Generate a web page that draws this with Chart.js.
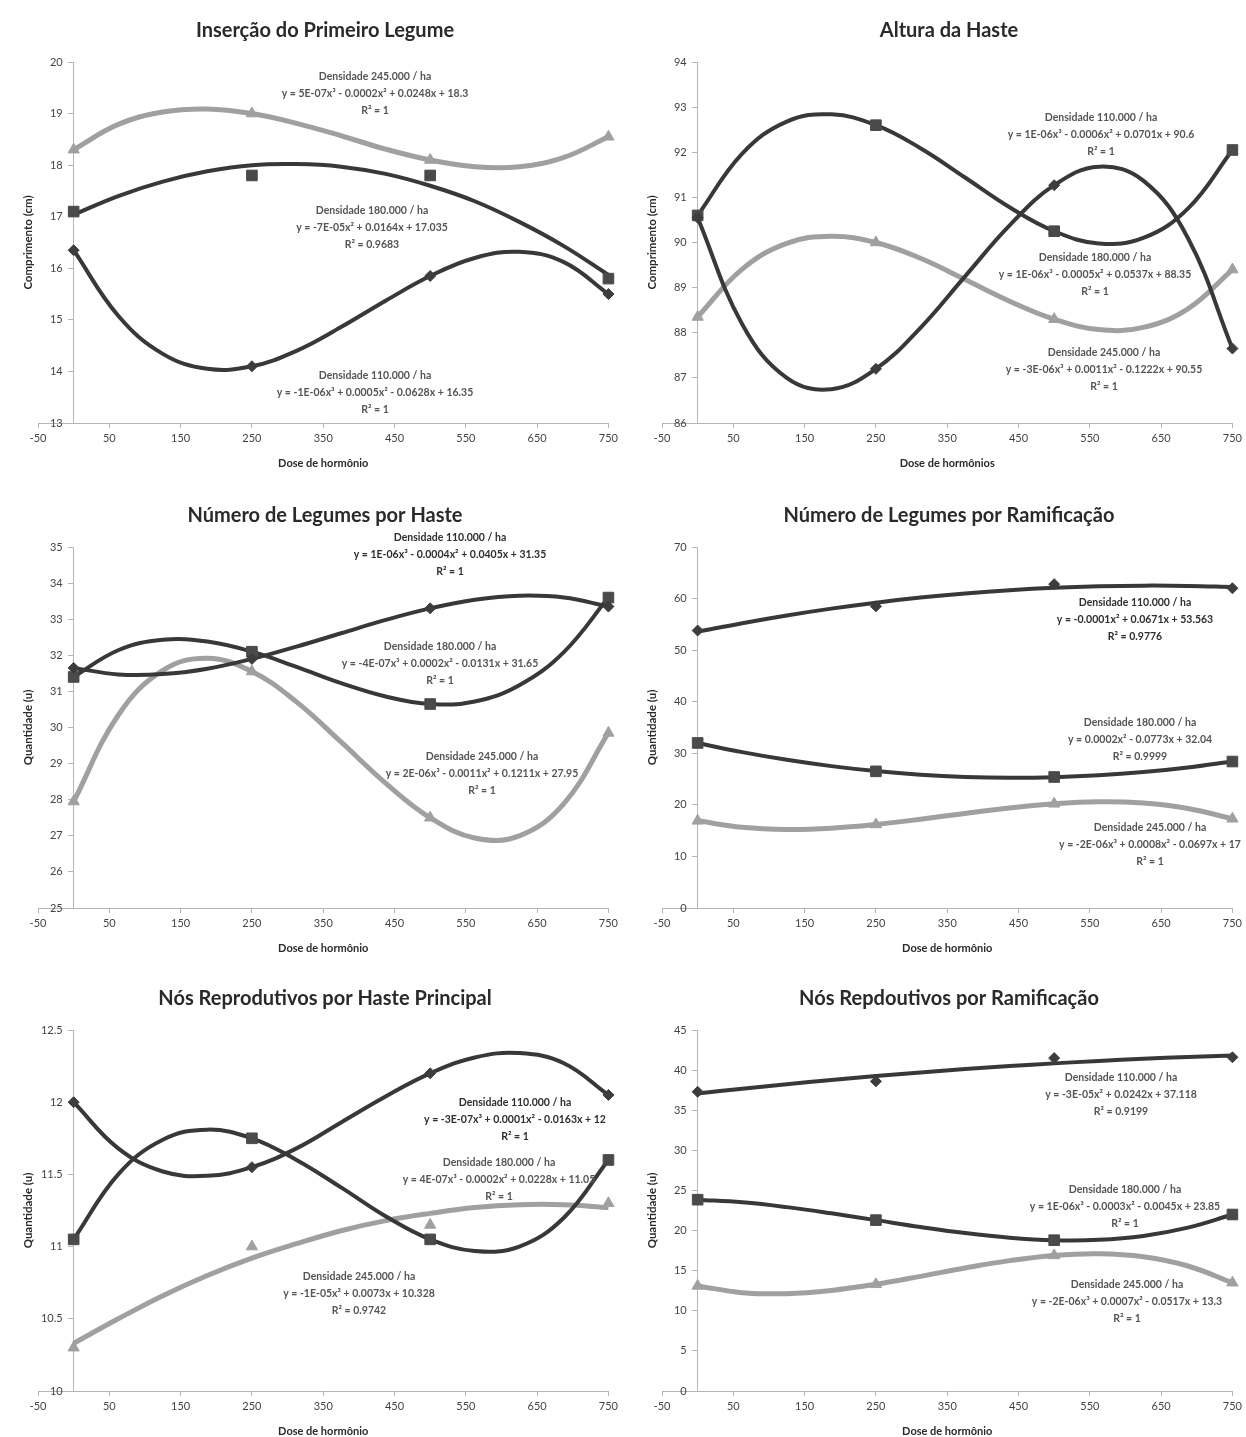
<!DOCTYPE html>
<html>
<head>
<meta charset="utf-8">
<script src="https://cdn.jsdelivr.net/npm/chart.js@4.4.1/dist/chart.umd.min.js"></script>
<style>
  html, body { margin: 0; padding: 0; background: #fff; }
  body { width: 1246px; height: 1437px; position: relative; overflow: hidden; }
  .box { position: absolute; }
</style>
</head>
<body>
<div class="box" style="left:0;top:0"><canvas id="c1" width="622" height="475"></canvas></div>
<div class="box" style="left:624px;top:0"><canvas id="c2" width="622" height="475"></canvas></div>
<div class="box" style="left:0;top:485px"><canvas id="c3" width="622" height="475"></canvas></div>
<div class="box" style="left:624px;top:485px"><canvas id="c4" width="622" height="475"></canvas></div>
<div class="box" style="left:0;top:968px"><canvas id="c5" width="622" height="469"></canvas></div>
<div class="box" style="left:624px;top:968px"><canvas id="c6" width="622" height="469"></canvas></div>
<script>
// doses de hormônio (eixo x)
const doses = [0, 250, 500, 750];
const trendDoses = [0, 62.5, 125, 187.5, 250, 312.5, 375, 437.5, 500, 562.5, 625, 687.5, 750];

// Inserção do Primeiro Legume (cm)
const insercao110 = [16.35, 14.1, 15.85, 15.5];
const insercao180 = [17.1, 17.8, 17.8, 15.8];
const insercao245 = [18.3, 19.0, 18.1, 18.55];
const insercaoTrend110 = [16.35, 15.08, 14.34, 14.05, 14.1, 14.4, 14.86, 15.37, 15.85, 16.2, 16.32, 16.12, 15.5];
const insercaoTrend180 = [17.04, 17.4, 17.68, 17.88, 18.0, 18.02, 17.97, 17.83, 17.6, 17.3, 16.9, 16.43, 15.87];
const insercaoTrend245 = [18.3, 18.79, 19.03, 19.09, 19.0, 18.81, 18.57, 18.31, 18.1, 17.97, 17.97, 18.15, 18.55];

// Altura da Haste (cm)
const altura110 = [90.55, 87.2, 91.27, 87.65];
const altura180 = [90.6, 92.6, 90.25, 92.05];
const altura245 = [88.35, 90.0, 88.3, 89.4];
const alturaTrend110 = [90.55, 88.19, 87.0, 86.75, 87.2, 88.11, 89.25, 90.38, 91.27, 91.68, 91.37, 90.1, 87.65];
const alturaTrend180 = [90.6, 91.97, 92.68, 92.84, 92.6, 92.09, 91.44, 90.78, 90.25, 89.98, 90.1, 90.75, 92.05];
const alturaTrend245 = [88.35, 89.41, 89.98, 90.14, 90.0, 89.65, 89.18, 88.7, 88.3, 88.07, 88.12, 88.53, 89.4];

// Número de Legumes por Haste (u)
const legHaste110 = [31.65, 31.9, 33.3, 33.35];
const legHaste180 = [31.4, 32.1, 30.65, 33.6];
const legHaste245 = [27.95, 31.55, 27.5, 29.85];
const legHasteTrend110 = [31.65, 31.47, 31.48, 31.63, 31.9, 32.24, 32.61, 32.98, 33.3, 33.54, 33.65, 33.6, 33.35];
const legHasteTrend180 = [31.4, 32.14, 32.43, 32.38, 32.1, 31.68, 31.23, 30.86, 30.65, 30.72, 31.17, 32.09, 33.6];
const legHasteTrend245 = [27.95, 30.34, 31.58, 31.92, 31.55, 30.71, 29.6, 28.46, 27.5, 26.94, 27.0, 27.89, 29.85];

// Número de Legumes por Ramificação (u)
const legRamif110 = [53.8, 58.5, 62.8, 62.0];
const legRamif180 = [32.0, 26.5, 25.4, 28.4];
const legRamif245 = [16.9, 16.2, 20.2, 17.3];
const legRamifTrend110 = [53.57, 55.23, 56.73, 58.05, 59.21, 60.19, 60.99, 61.63, 62.1, 62.39, 62.51, 62.46, 62.24];
const legRamifTrend180 = [31.99, 30.23, 28.73, 27.51, 26.55, 25.85, 25.42, 25.25, 25.36, 25.72, 26.35, 27.25, 28.42];
const legRamifTrend245 = [16.9, 15.65, 15.24, 15.48, 16.2, 17.21, 18.34, 19.39, 20.2, 20.58, 20.34, 19.31, 17.3];

// Nós Reprodutivos por Haste Principal (u)
const nosHaste110 = [12.0, 11.55, 12.2, 12.05];
const nosHaste180 = [11.05, 11.75, 11.05, 11.6];
const nosHaste245 = [10.3, 11.0, 11.15, 11.3];
const nosHasteTrend110 = [12.0, 11.68, 11.52, 11.49, 11.55, 11.68, 11.86, 12.04, 12.2, 12.31, 12.34, 12.27, 12.05];
const nosHasteTrend180 = [11.05, 11.5, 11.74, 11.81, 11.75, 11.6, 11.41, 11.21, 11.05, 10.97, 11.0, 11.2, 11.6];
const nosHasteTrend245 = [10.33, 10.5, 10.66, 10.8, 10.92, 11.02, 11.11, 11.18, 11.23, 11.27, 11.29, 11.29, 11.27];

// Nós Repdoutivos por Ramificação (u)
const nosRamif110 = [37.3, 38.6, 41.5, 41.6];
const nosRamif180 = [23.85, 21.3, 18.8, 22.0];
const nosRamif245 = [13.1, 13.3, 16.9, 13.5];
const nosRamifTrend110 = [37.08, 37.68, 38.25, 38.77, 39.26, 39.71, 40.13, 40.5, 40.84, 41.14, 41.41, 41.63, 41.82];
const nosRamifTrend180 = [23.85, 23.52, 22.92, 22.15, 21.3, 20.45, 19.69, 19.11, 18.8, 18.85, 19.33, 20.36, 22.0];
const nosRamifTrend245 = [13.1, 12.26, 12.13, 12.53, 13.3, 14.29, 15.33, 16.25, 16.9, 17.11, 16.73, 15.58, 13.5];

const FONT = 'Lato, "Open Sans", sans-serif';
const DARK = '#383838';
const GRAY = '#a0a0a0';

const notesPlugin = {
  id: 'notes',
  afterDraw(chart, args, opts) {
    const ctx = chart.ctx;
    const a = chart.chartArea;
    ctx.save();
    ctx.textAlign = 'center';
    ctx.textBaseline = 'middle';
    ctx.fillStyle = '#2b2b2b';
    ctx.font = 'bold 11px ' + FONT;
    ctx.fillText(opts.xTitle, (a.left + a.right) / 2, a.bottom + 40);
    ctx.save();
    ctx.translate(28, (a.top + a.bottom) / 2);
    ctx.rotate(-Math.PI / 2);
    ctx.font = 'bold 11.5px ' + FONT;
    ctx.fillText(opts.yTitle, 0, 0);
    ctx.restore();
    ctx.font = 'bold 10.5px ' + FONT;
    opts.boxes.forEach(b => {
      ctx.fillStyle = b.dark ? '#2e2e2e' : '#555';
      b.lines.forEach((t, i) => ctx.fillText(t, b.x, b.y + i * 17));
    });
    ctx.restore();
  }
};

function pts(values) {
  return values.map((v, i) => ({ x: doses[i], y: v }));
}
function curve(values) {
  return values.map((v, i) => ({ x: trendDoses[i], y: v }));
}

function makeChart(id, o) {
  const tickFont = { family: FONT, size: 11 };
  new Chart(document.getElementById(id), {
    type: 'line',
    data: {
      datasets: [
        { data: pts(o.s110), showLine: false, pointStyle: 'rectRot', pointRadius: 5.5,
          pointBackgroundColor: '#3d3d3d', pointBorderColor: '#3d3d3d', clip: false },
        { data: pts(o.s180), showLine: false, pointStyle: 'rect', pointRadius: 7.5,
          pointBackgroundColor: '#4a4a4a', pointBorderColor: '#4a4a4a', clip: false },
        { data: pts(o.s245), showLine: false, pointStyle: 'triangle', pointRadius: 6.5,
          pointBackgroundColor: '#a0a0a0', pointBorderColor: '#a0a0a0', clip: false },
        { data: curve(o.t110), borderColor: DARK, borderWidth: 4, pointRadius: 0, tension: 0.4, clip: false },
        { data: curve(o.t180), borderColor: DARK, borderWidth: 4, pointRadius: 0, tension: 0.4, clip: false },
        { data: curve(o.t245), borderColor: GRAY, borderWidth: 5, pointRadius: 0, tension: 0.4, clip: false }
      ]
    },
    options: {
      responsive: false,
      animation: false,
      layout: { padding: { left: 38, right: 10, bottom: o.bottomPad } },
      scales: {
        x: {
          type: 'linear', min: -50, max: 750,
          ticks: { stepSize: 100, color: '#444', font: tickFont, padding: 4, maxRotation: 0, autoSkip: false,
                   callback: v => String(v) },
          grid: { drawOnChartArea: false, tickLength: 5, color: '#b5b5b5' },
          border: { color: '#b5b5b5' },
          afterFit: s => { s.height = 30; }
        },
        y: {
          type: 'linear', position: { x: 0 }, min: o.yMin, max: o.yMax,
          ticks: { stepSize: o.yStep, color: '#444', font: tickFont, autoSkip: false,
                   callback: v => String(v) + '\u2002\u2002' },
          grid: { drawOnChartArea: false, tickLength: 5, color: '#b5b5b5' },
          border: { color: '#b5b5b5' }
        }
      },
      plugins: {
        legend: { display: false },
        tooltip: { enabled: false },
        title: {
          display: true, text: o.title, color: '#2a2a2a',
          font: { family: FONT, size: 20, weight: 'bold' },
          padding: { top: 19, bottom: 19 }
        },
        notes: { xTitle: o.xTitle, yTitle: o.yTitle, boxes: o.boxes }
      }
    },
    plugins: [notesPlugin]
  });
}

makeChart('c1', {
  title: 'Inserção do Primeiro Legume', xTitle: 'Dose de hormônio', yTitle: 'Comprimento (cm)',
  yMin: 13, yMax: 20, yStep: 1, bottomPad: 22,
  s110: insercao110, s180: insercao180, s245: insercao245,
  t110: insercaoTrend110, t180: insercaoTrend180, t245: insercaoTrend245,
  boxes: [
    { x: 375, y: 77, lines: ['Densidade 245.000 / ha', 'y = 5E-07x³ - 0.0002x² + 0.0248x + 18.3', 'R² = 1'] },
    { x: 372, y: 211, lines: ['Densidade 180.000 / ha', 'y = -7E-05x² + 0.0164x + 17.035', 'R² = 0.9683'] },
    { x: 375, y: 376, lines: ['Densidade 110.000 / ha', 'y = -1E-06x³ + 0.0005x² - 0.0628x + 16.35', 'R² = 1'] }
  ]
});

makeChart('c2', {
  title: 'Altura da Haste', xTitle: 'Dose de hormônios', yTitle: 'Comprimento (cm)',
  yMin: 86, yMax: 94, yStep: 1, bottomPad: 22,
  s110: altura110, s180: altura180, s245: altura245,
  t110: alturaTrend110, t180: alturaTrend180, t245: alturaTrend245,
  boxes: [
    { x: 477, y: 118, lines: ['Densidade 110.000 / ha', 'y = 1E-06x³ - 0.0006x² + 0.0701x + 90.6', 'R² = 1'] },
    { x: 471, y: 258, lines: ['Densidade 180.000 / ha', 'y = 1E-06x³ - 0.0005x² + 0.0537x + 88.35', 'R² = 1'] },
    { x: 480, y: 353, lines: ['Densidade 245.000 / ha', 'y = -3E-06x³ + 0.0011x² - 0.1222x + 90.55', 'R² = 1'] }
  ]
});

makeChart('c3', {
  title: 'Número de Legumes por Haste', xTitle: 'Dose de hormônio', yTitle: 'Quantidade (u)',
  yMin: 25, yMax: 35, yStep: 1, bottomPad: 22,
  s110: legHaste110, s180: legHaste180, s245: legHaste245,
  t110: legHasteTrend110, t180: legHasteTrend180, t245: legHasteTrend245,
  boxes: [
    { x: 450, y: 53, dark: true, lines: ['Densidade 110.000 / ha', 'y = 1E-06x³ - 0.0004x² + 0.0405x + 31.35', 'R² = 1'] },
    { x: 440, y: 162, lines: ['Densidade 180.000 / ha', 'y = -4E-07x³ + 0.0002x² - 0.0131x + 31.65', 'R² = 1'] },
    { x: 482, y: 272, lines: ['Densidade 245.000 / ha', 'y = 2E-06x³ - 0.0011x² + 0.1211x + 27.95', 'R² = 1'] }
  ]
});

makeChart('c4', {
  title: 'Número de Legumes por Ramificação', xTitle: 'Dose de hormônio', yTitle: 'Quantidade (u)',
  yMin: 0, yMax: 70, yStep: 10, bottomPad: 22,
  s110: legRamif110, s180: legRamif180, s245: legRamif245,
  t110: legRamifTrend110, t180: legRamifTrend180, t245: legRamifTrend245,
  boxes: [
    { x: 511, y: 118, dark: true, lines: ['Densidade 110.000 / ha', 'y = -0.0001x² + 0.0671x + 53.563', 'R² = 0.9776'] },
    { x: 516, y: 238, lines: ['Densidade 180.000 / ha', 'y = 0.0002x² - 0.0773x + 32.04', 'R² = 0.9999'] },
    { x: 526, y: 343, lines: ['Densidade 245.000 / ha', 'y = -2E-06x³ + 0.0008x² - 0.0697x + 17', 'R² = 1'] }
  ]
});

makeChart('c5', {
  title: 'Nós Reprodutivos por Haste Principal', xTitle: 'Dose de hormônio', yTitle: 'Quantidade (u)',
  yMin: 10, yMax: 12.5, yStep: 0.5, bottomPad: 16,
  s110: nosHaste110, s180: nosHaste180, s245: nosHaste245,
  t110: nosHasteTrend110, t180: nosHasteTrend180, t245: nosHasteTrend245,
  boxes: [
    { x: 515, y: 135, dark: true, lines: ['Densidade 110.000 / ha', 'y = -3E-07x³ + 0.0001x² - 0.0163x + 12', 'R² = 1'] },
    { x: 499, y: 195, lines: ['Densidade 180.000 / ha', 'y = 4E-07x³ - 0.0002x² + 0.0228x + 11.05', 'R² = 1'] },
    { x: 359, y: 309, lines: ['Densidade 245.000 / ha', 'y = -1E-05x² + 0.0073x + 10.328', 'R² = 0.9742'] }
  ]
});

makeChart('c6', {
  title: 'Nós Repdoutivos por Ramificação', xTitle: 'Dose de hormônio', yTitle: 'Quantidade (u)',
  yMin: 0, yMax: 45, yStep: 5, bottomPad: 16,
  s110: nosRamif110, s180: nosRamif180, s245: nosRamif245,
  t110: nosRamifTrend110, t180: nosRamifTrend180, t245: nosRamifTrend245,
  boxes: [
    { x: 497, y: 110, lines: ['Densidade 110.000 / ha', 'y = -3E-05x² + 0.0242x + 37.118', 'R² = 0.9199'] },
    { x: 501, y: 222, lines: ['Densidade 180.000 / ha', 'y = 1E-06x³ - 0.0003x² - 0.0045x + 23.85', 'R² = 1'] },
    { x: 503, y: 317, lines: ['Densidade 245.000 / ha', 'y = -2E-06x³ + 0.0007x² - 0.0517x + 13.3', 'R² = 1'] }
  ]
});
</script>
</body>
</html>
